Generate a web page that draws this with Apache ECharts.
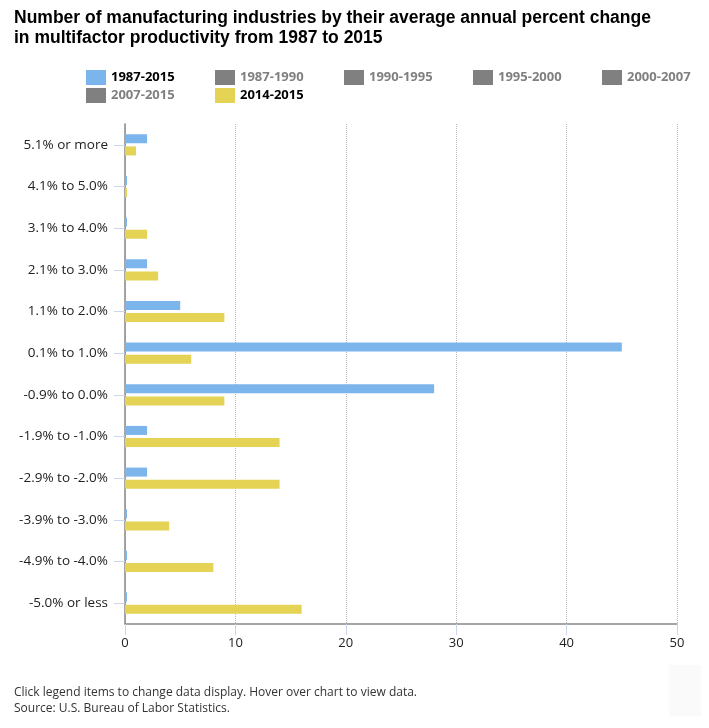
<!DOCTYPE html>
<html>
<head>
<meta charset="utf-8">
<script src="https://cdn.jsdelivr.net/npm/echarts@6/dist/echarts.min.js"></script>
<style>html,body{margin:0;padding:0;background:#fff;}#c{width:709px;height:728px;}</style>
</head>
<body>
<div id="c"></div>
<script>
// Categories (top to bottom)
var categories = ['5.1% or more','4.1% to 5.0%','3.1% to 4.0%','2.1% to 3.0%','1.1% to 2.0%','0.1% to 1.0%','-0.9% to 0.0%','-1.9% to -1.0%','-2.9% to -2.0%','-3.9% to -3.0%','-4.9% to -4.0%','-5.0% or less'];
// Visible series values
var s1987_2015 = [2, 0, 0, 2, 5, 45, 28, 2, 2, 0, 0, 0];
var s2014_2015 = [1, 0, 2, 3, 9, 6, 9, 14, 14, 4, 8, 16];
// Hidden (legend-deselected) series: values not shown in the picture
var s1987_1990 = [];
var s1990_1995 = [];
var s1995_2000 = [];
var s2000_2007 = [];
var s2007_2015 = [];
var xTicks = [0, 10, 20, 30, 40, 50];

var chart = echarts.init(document.getElementById('c'), null, {renderer: 'canvas'});
var legendText = {fontFamily: 'Open Sans', fontSize: 13, fontWeight: 'bold', color: '#000', width: 80, lineHeight: 15};
var allSeries = [
  {name: '1987-2015', data: s1987_2015, color: '#7cb5ec'},
  {name: '1987-1990', data: s1987_1990, color: '#434348'},
  {name: '1990-1995', data: s1990_1995, color: '#90ed7d'},
  {name: '1995-2000', data: s1995_2000, color: '#f7a35c'},
  {name: '2000-2007', data: s2000_2007, color: '#8085e9'},
  {name: '2007-2015', data: s2007_2015, color: '#f15c80'},
  {name: '2014-2015', data: s2014_2015, color: '#e4d354'}
];
var hidden = {'1987-1990': false, '1990-1995': false, '1995-2000': false, '2000-2007': false, '2007-2015': false};
var legendBase = {
  orient: 'horizontal', icon: 'rect', itemWidth: 20, itemHeight: 15, itemGap: 24,
  inactiveColor: '#808080', inactiveBorderColor: '#808080',
  textStyle: legendText, selected: hidden, padding: 0
};
chart.setOption({
  animation: false,
  title: {
    text: 'Number of manufacturing industries by their average annual percent change\nin multifactor productivity from 1987 to 2015',
    left: 14, top: 8, padding: 0,
    textStyle: {fontFamily: 'Liberation Sans', fontSize: 17.5, fontWeight: 'bold', color: '#000', lineHeight: 20}
  },
  legend: [
    Object.assign({}, legendBase, {left: 86, top: 70, data: ['1987-2015','1987-1990','1990-1995','1995-2000','2000-2007']}),
    Object.assign({}, legendBase, {left: 86, top: 88, data: ['2007-2015','2014-2015']})
  ],
  grid: {left: 125, right: 32, top: 124, bottom: 104, containLabel: false},
  xAxis: {
    type: 'value', min: xTicks[0], max: xTicks[xTicks.length - 1], interval: 10,
    axisLine: {show: true, lineStyle: {color: '#888', width: 1.5}},
    axisTick: {show: true, length: 11, lineStyle: {color: '#ccd6eb'}},
    axisLabel: {margin: 13, fontFamily: 'Open Sans', fontSize: 13, color: '#222'},
    splitLine: {show: true, lineStyle: {type: 'dotted', color: '#bbb', width: 1}}
  },
  yAxis: {
    type: 'category', data: categories, inverse: true,
    axisLine: {show: true, lineStyle: {color: '#888', width: 1.5}},
    axisTick: {show: true, alignWithLabel: true, length: 11, lineStyle: {color: '#ccd6eb'}},
    axisLabel: {margin: 17, fontFamily: 'Open Sans', fontSize: 13.5, color: '#222'},
    splitLine: {show: false}
  },
  series: allSeries.map(function (s) {
    return {
      name: s.name, type: 'bar', data: s.data, barWidth: 9, barGap: '35%', barMinHeight: 2,
      itemStyle: {color: s.color}
    };
  }),
  graphic: [
    {type: 'rect', shape: {x: 669, y: 665, width: 32, height: 51}, style: {fill: '#fafafa'}, silent: true},
    {type: 'text', left: 14, top: 687, style: {text: 'Click legend items to change data display. Hover over chart to view data.', font: '12px "Open Sans"', fill: '#333'}},
    {type: 'text', left: 14, top: 703, style: {text: 'Source: U.S. Bureau of Labor Statistics.', font: '12px "Open Sans"', fill: '#333'}}
  ]
});
</script>
</body>
</html>
